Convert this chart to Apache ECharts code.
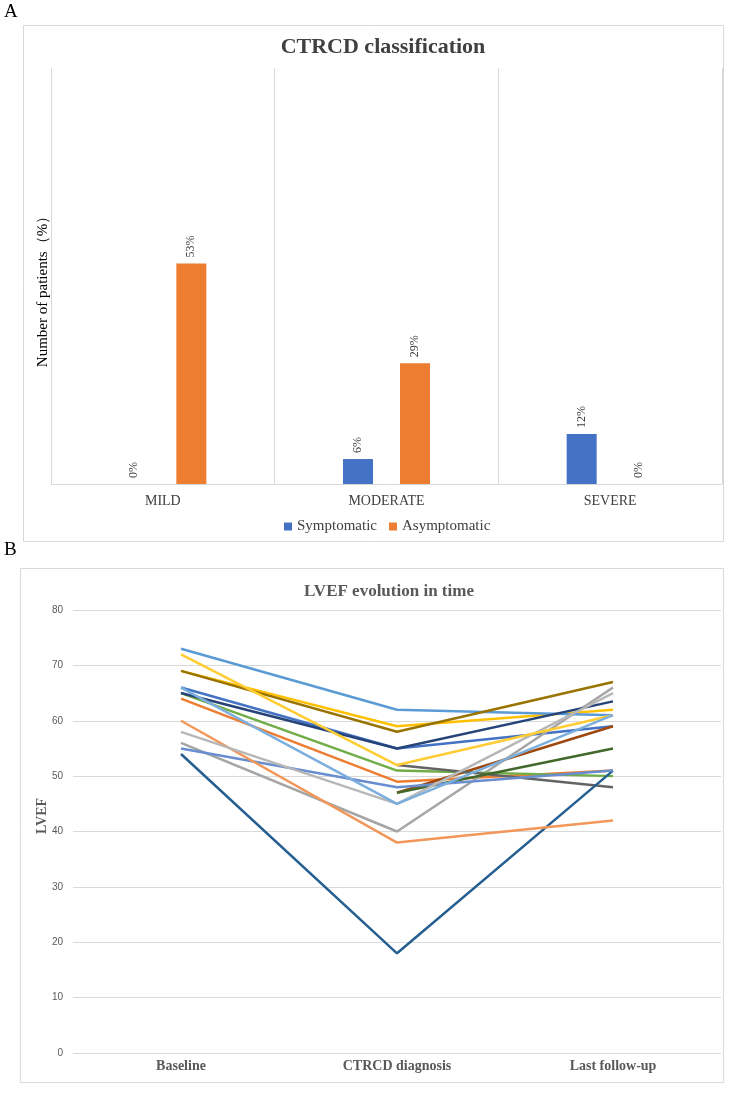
<!DOCTYPE html>
<html>
<head>
<meta charset="utf-8">
<script src="https://cdn.jsdelivr.net/npm/echarts@6/dist/echarts.min.js"></script>
<style>
html,body{margin:0;padding:0;background:#fff;}
#c{width:744px;height:1093px;}
</style>
</head>
<body>
<div id="c"></div>
<script>
// ---- Panel A data ----
const ctrcdCategories = ['MILD', 'MODERATE', 'SEVERE'];
const symptomatic = [0, 6, 12];
const asymptomatic = [53, 29, 0];

// ---- Panel B data ----
const timepoints = ['Baseline', 'CTRCD diagnosis', 'Last follow-up'];
const yTicks = [0, 10, 20, 30, 40, 50, 60, 70, 80];
const pt01 = [66, 55, 59];
const pt02 = [64, 49, 51];
const pt03 = [56, 40, 66];
const pt04 = [69, 59, 62];
const pt05 = [73, 62, 61];
const pt06 = [65, 51, 50];
const pt07 = [65, 55, 63.5];
const pt08 = [null, 47, 59];
const pt09 = [null, 52, 48];
const pt10 = [69, 58, 67];
const pt11 = [54, 18, 51];
const pt12 = [null, 47, 55];
const pt13 = [55, 48, 51];
const pt14 = [60, 38, 42];
const pt15 = [58, 45, 65];
const pt16 = [72, 52, 61];
const pt17 = [66, 45, 61];
const patients = [pt01, pt02, pt03, pt04, pt05, pt06, pt07, pt08, pt09, pt10, pt11, pt12, pt13, pt14, pt15, pt16, pt17];
const lineColors = ['#4472C4', '#ED7D31', '#A5A5A5', '#FFC000', '#5B9BD5', '#70AD47', '#264478', '#9E480E',
  '#636363', '#997300', '#255E91', '#43682B', '#698ED0', '#F1975A', '#B7B7B7', '#FFCD33', '#7CAFDD'];

const SERIF = '"Liberation Serif", "Times New Roman", serif';
const NARROW = '"Liberation Sans Narrow", "Liberation Sans", sans-serif';

const chart = echarts.init(document.getElementById('c'), null, {renderer: 'canvas'});

const barLabel = {
  show: true, position: 'top', rotate: 90, distance: 6,
  align: 'left', verticalAlign: 'middle',
  formatter: p => p.value + '%',
  fontFamily: SERIF, fontSize: 12, color: '#404040'
};

const lineSeries = patients.map((d, i) => ({
  type: 'line', xAxisIndex: 1, yAxisIndex: 1, data: d,
  showSymbol: false, symbol: 'none', connectNulls: false,
  lineStyle: {width: 2.5, color: lineColors[i]},
  itemStyle: {color: lineColors[i]}, silent: true, z: 3
}));

chart.setOption({
  animation: false,
  backgroundColor: '#fff',
  title: [
    {text: 'CTRCD classification', left: 378, textAlign: 'center', top: 31,
     textStyle: {fontFamily: SERIF, fontWeight: 'bold', fontSize: 22, color: '#404040'}},
    {text: 'LVEF evolution in time', left: 384, textAlign: 'center', top: 578,
     textStyle: {fontFamily: SERIF, fontWeight: 'bold', fontSize: 17, color: '#595959'}}
  ],
  legend: {
    data: ['Symptomatic', 'Asymptomatic'], left: 279, top: 514,
    icon: 'rect', itemWidth: 8, itemHeight: 8, itemGap: 12,
    textStyle: {fontFamily: SERIF, fontSize: 15, color: '#404040'}
  },
  grid: [
    {left: 51, width: 671, top: 68, height: 416},
    {left: 73, width: 648, top: 610, height: 443}
  ],
  xAxis: [
    {type: 'category', gridIndex: 0, data: ctrcdCategories,
     axisLine: {lineStyle: {color: '#d9d9d9'}}, axisTick: {show: false},
     splitLine: {show: true, lineStyle: {color: '#d9d9d9'}},
     axisLabel: {fontFamily: SERIF, fontSize: 14, color: '#404040', margin: 10}},
    {type: 'category', gridIndex: 1, data: timepoints,
     axisLine: {show: false}, axisTick: {show: false},
     axisLabel: {fontFamily: SERIF, fontWeight: 'bold', fontSize: 14, color: '#595959', margin: 6}}
  ],
  yAxis: [
    {type: 'value', gridIndex: 0, min: 0, max: 100, show: false, splitLine: {show: false}},
    {type: 'value', gridIndex: 1, min: 0, max: 80, interval: 10,
     axisLine: {show: false}, axisTick: {show: false},
     axisLabel: {fontFamily: NARROW, fontSize: 10, color: '#595959', margin: 10},
     splitLine: {lineStyle: {color: '#d9d9d9', width: 1}}}
  ],
  series: [
    {name: 'Symptomatic', type: 'bar', xAxisIndex: 0, yAxisIndex: 0, data: symptomatic,
     barWidth: 30, barGap: '90%', itemStyle: {color: '#4472C4'}, label: barLabel},
    {name: 'Asymptomatic', type: 'bar', xAxisIndex: 0, yAxisIndex: 0, data: asymptomatic,
     barWidth: 30, barGap: '90%', itemStyle: {color: '#ED7D31'}, label: barLabel}
  ].concat(lineSeries),
  graphic: [
    {type: 'rect', shape: {x: 23.5, y: 25.5, width: 700, height: 516}, silent: true,
     style: {fill: 'none', stroke: '#d9d9d9', lineWidth: 1}, z: 0},
    {type: 'rect', shape: {x: 20.5, y: 568.5, width: 703, height: 514}, silent: true,
     style: {fill: 'none', stroke: '#d9d9d9', lineWidth: 1}, z: 0},
    {type: 'text', left: 4, top: 3, silent: true,
     style: {text: 'A', font: '19px ' + SERIF, fill: '#000'}},
    {type: 'text', left: 4, top: 541, silent: true,
     style: {text: 'B', font: '19px ' + SERIF, fill: '#000'}},
    {type: 'text', x: 43, y: 288, rotation: Math.PI / 2, silent: true,
     style: {text: 'Number of patients（%）', font: '15px ' + SERIF, fill: '#000',
             textAlign: 'center', textVerticalAlign: 'middle'}},
    {type: 'text', x: 42, y: 816, rotation: Math.PI / 2, silent: true,
     style: {text: 'LVEF', font: 'bold 14px ' + SERIF, fill: '#595959',
             textAlign: 'center', textVerticalAlign: 'middle'}}
  ]
});
</script>
</body>
</html>
